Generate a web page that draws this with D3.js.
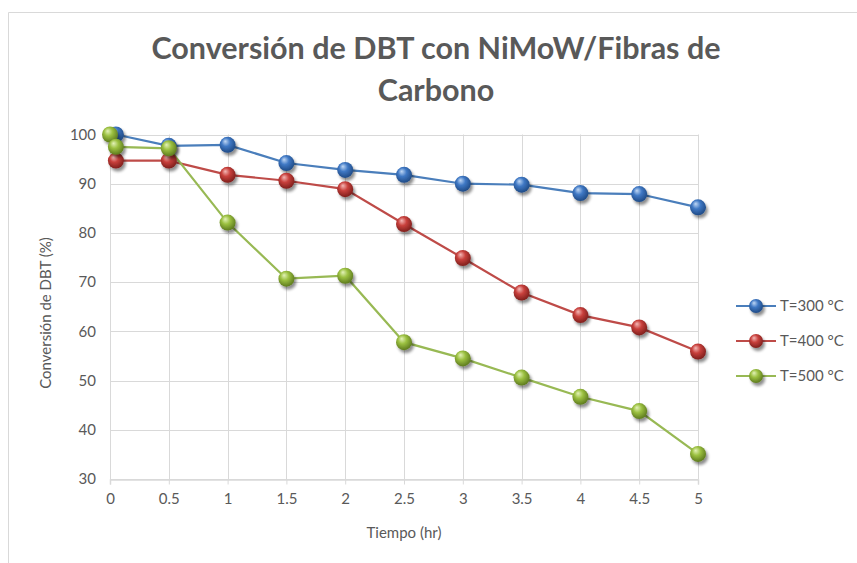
<!DOCTYPE html>
<html>
<head>
<meta charset="utf-8">
<script src="https://cdn.jsdelivr.net/npm/d3@7"></script>
<style>
  html, body { margin: 0; padding: 0; background: #fff; }
  svg { display: block; }
  text { font-family: Lato, "Open Sans", sans-serif; fill: #595959; }
</style>
</head>
<body>
<svg id="chart" width="857" height="563"></svg>
<script>
// Conversion data (%) versus time (hr) for each reaction temperature
const seriesNames = ["T=300 °C", "T=400 °C", "T=500 °C"];
const timeT300 = [0.05, 0.5, 1, 1.5, 2, 2.5, 3, 3.5, 4, 4.5, 5];
const convT300 = [100, 97.7, 97.9, 94.2, 92.8, 91.8, 90.0, 89.8, 88.1, 87.9, 85.2];
const timeT400 = [0.05, 0.5, 1, 1.5, 2, 2.5, 3, 3.5, 4, 4.5, 5];
const convT400 = [94.7, 94.7, 91.8, 90.6, 88.9, 81.8, 74.9, 67.9, 63.3, 60.8, 55.9];
const timeT500 = [0, 0.05, 0.5, 1, 1.5, 2, 2.5, 3, 3.5, 4, 4.5, 5];
const convT500 = [100, 97.5, 97.2, 82.1, 70.7, 71.3, 57.8, 54.5, 50.6, 46.7, 43.8, 35.1];
const xTicks = [0, 0.5, 1, 1.5, 2, 2.5, 3, 3.5, 4, 4.5, 5];
const yTicks = [30, 40, 50, 60, 70, 80, 90, 100];

const palette = [
  { line: "#4A7EBB", light: "#BFD7F5", mid: "#3F78C4", dark: "#1F4A85" },
  { line: "#BE4B48", light: "#F4B8B6", mid: "#C8403C", dark: "#7E1F1C" },
  { line: "#98B954", light: "#E3F2B8", mid: "#9BC040", dark: "#5D7A1E" }
];

const series = [
  { name: seriesNames[0], pts: timeT300.map((t, i) => [t, convT300[i]]) },
  { name: seriesNames[1], pts: timeT400.map((t, i) => [t, convT400[i]]) },
  { name: seriesNames[2], pts: timeT500.map((t, i) => [t, convT500[i]]) }
];

const svg = d3.select("#chart");

// Chart frame
svg.append("path")
  .attr("d", "M8.5,563 L8.5,12.5 L857,12.5")
  .attr("fill", "none").attr("stroke", "#D9D9D9").attr("stroke-width", 1);

const defs = svg.append("defs");
palette.forEach((c, i) => {
  const g = defs.append("radialGradient").attr("id", "ball" + i)
    .attr("cx", "45%").attr("cy", "40%").attr("r", "60%")
    .attr("fx", "35%").attr("fy", "28%");
  g.append("stop").attr("offset", "0%").attr("stop-color", c.light);
  g.append("stop").attr("offset", "45%").attr("stop-color", c.mid);
  g.append("stop").attr("offset", "100%").attr("stop-color", c.dark);
});
const sh = defs.append("filter").attr("id", "shadow")
  .attr("x", "-50%").attr("y", "-50%").attr("width", "200%").attr("height", "200%");
sh.append("feGaussianBlur").attr("in", "SourceAlpha").attr("stdDeviation", 1.6);
sh.append("feOffset").attr("dx", 1.5).attr("dy", 2.5).attr("result", "ob");
sh.append("feComponentTransfer").append("feFuncA").attr("type", "linear").attr("slope", 0.45);
const merge = sh.append("feMerge");
merge.append("feMergeNode");
merge.append("feMergeNode").attr("in", "SourceGraphic");

const x = d3.scaleLinear().domain([0, 5]).range([110, 698]);
const y = d3.scaleLinear().domain([30, 100]).range([479, 134.5]);

// Gridlines
const grid = svg.append("g");
grid.selectAll(".hg").data(yTicks).join("line")
  .attr("x1", x(0)).attr("x2", x(5))
  .attr("y1", d => Math.round(y(d)) + 0.5).attr("y2", d => Math.round(y(d)) + 0.5)
  .attr("stroke", "#D9D9D9").attr("stroke-width", 1);
grid.selectAll(".vg").data(xTicks).join("line")
  .attr("x1", d => Math.round(x(d)) + 0.5).attr("x2", d => Math.round(x(d)) + 0.5)
  .attr("y1", y(100)).attr("y2", y(30))
  .attr("stroke", "#D9D9D9").attr("stroke-width", 1);

// Axes
const xAxis = svg.append("g").attr("transform", `translate(0,${Math.round(y(30)) + 0.5})`)
  .call(d3.axisBottom(x).tickValues(xTicks).tickSize(5).tickPadding(9).tickFormat(d3.format("")));
xAxis.select(".domain").attr("stroke", "#D9D9D9").attr("stroke-width", 1.5);
xAxis.selectAll(".tick line").attr("stroke", "#D9D9D9");
xAxis.selectAll("text").attr("font-size", 15).attr("fill", "#595959")
  .attr("font-family", "Lato, 'Open Sans', sans-serif");

const yAxis = svg.append("g").attr("transform", `translate(${x(0)},0)`)
  .call(d3.axisLeft(y).tickValues(yTicks).tickSize(0).tickPadding(14));
yAxis.select(".domain").remove();
yAxis.selectAll("text").attr("font-size", 15).attr("fill", "#595959")
  .attr("font-family", "Lato, 'Open Sans', sans-serif");

// Series lines and markers
const line = d3.line().x(d => x(d[0])).y(d => y(d[1]));
series.forEach((s, i) => {
  svg.append("path").datum(s.pts)
    .attr("d", line).attr("fill", "none")
    .attr("stroke", palette[i].line).attr("stroke-width", 2.2);
});
series.forEach((s, i) => {
  svg.append("g").selectAll("circle").data(s.pts).join("circle")
    .attr("cx", d => x(d[0])).attr("cy", d => y(d[1])).attr("r", 8)
    .attr("fill", `url(#ball${i})`).attr("filter", "url(#shadow)");
});

// Title
const title = svg.append("text").attr("text-anchor", "middle")
  .attr("font-size", 30.5).attr("font-weight", "bold").style("fill", "#595959");
title.append("tspan").attr("x", 436).attr("y", 59).text("Conversión de DBT con NiMoW/Fibras de");
title.append("tspan").attr("x", 436).attr("y", 101).text("Carbono");

// Axis titles
svg.append("text").attr("x", 404).attr("y", 538).attr("text-anchor", "middle")
  .attr("font-size", 15).text("Tiempo (hr)");
svg.append("text").attr("transform", "translate(51,313) rotate(-90)")
  .attr("text-anchor", "middle").attr("font-size", 15).text("Conversión de DBT (%)");

// Legend
const legend = svg.append("g");
series.forEach((s, i) => {
  const ly = 306 + i * 35;
  legend.append("line").attr("x1", 736).attr("x2", 776).attr("y1", ly).attr("y2", ly)
    .attr("stroke", palette[i].line).attr("stroke-width", 2);
  legend.append("circle").attr("cx", 756).attr("cy", ly).attr("r", 7)
    .attr("fill", `url(#ball${i})`).attr("filter", "url(#shadow)");
  legend.append("text").attr("x", 780).attr("y", ly + 5).attr("font-size", 15).text(s.name);
});
</script>
</body>
</html>
